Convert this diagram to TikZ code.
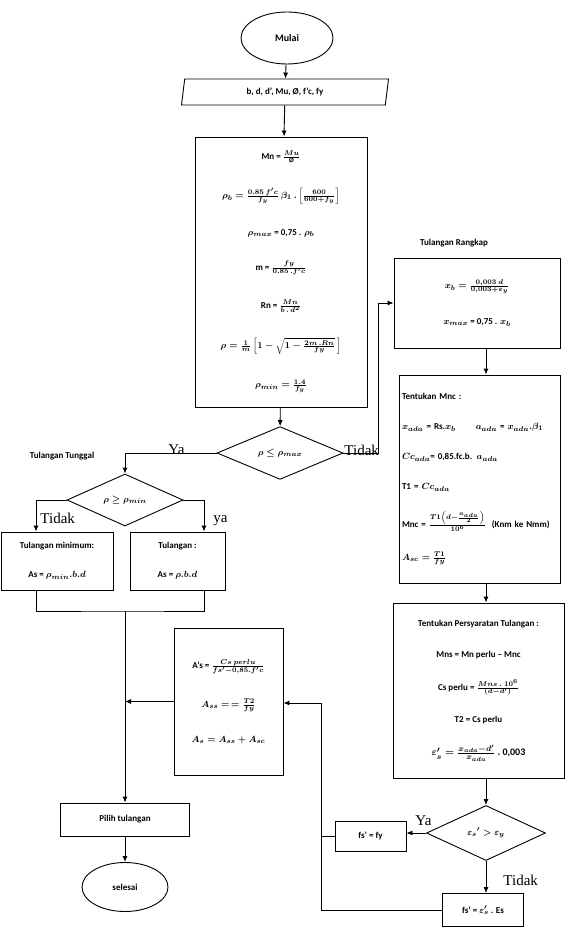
\documentclass[tikz,border=0pt]{standalone}
\usepackage{amsmath}
\usepackage{fontspec}
\setmainfont{Carlito}
\newfontfamily\tnr{Liberation Serif}
\DeclareMathSizes{9}{9}{7.5}{6}
\DeclareMathSizes{10}{10}{8}{6}
\usetikzlibrary{shapes.geometric,arrows.meta}

\tikzset{
  kotak/.style={draw, align=center, font=\small\bfseries\boldmath, inner sep=3pt},
  data/.style={draw, trapezium, trapezium left angle=75, trapezium right angle=105,
    trapezium stretches body, font=\small\bfseries, inner sep=2pt},
  putusan/.style={draw, diamond, inner sep=0pt, font=\small\bfseries\boldmath},
  ujung/.style={draw, ellipse, inner sep=0pt, font=\bfseries},
  ket/.style={font=\tnr\fontsize{15}{15}\selectfont, inner sep=0pt},
  judul/.style={font=\small\bfseries, inner sep=0pt}
}

\begin{document}
\begin{tikzpicture}[x=1pt,y=-1pt,line width=0.9pt,>={Latex[length=6pt,width=5pt]}]
\useasboundingbox (0,0) rectangle (579,942);
%alur utama
\node[ujung, minimum width=92, minimum height=52] (mulai) at (287,38) {Mulai};
\node[data, minimum width=207, minimum height=26] (masukan) at (285,92) {b, d, d', Mu, Ø, f'c, fy};
\node[kotak, minimum width=172, minimum height=270] (hitung) at (281,272) {%
  Mn = $\frac{Mu}{\mbox{\scriptsize Ø}}$\\[24pt]
  $\rho_b = \frac{0.85\,f'c}{f_y}\,\beta_1\,.\left[\frac{600}{600+f_y}\right]$\\[24pt]
  $\rho_{max}$ = 0,75 . $\rho_b$\\[24pt]
  m = $\frac{fy}{0.85\,.f'c}$\\[24pt]
  Rn = $\frac{Mn}{b\,.\,d^2}$\\[24pt]
  $\rho = \frac{1}{m}\left[1-\sqrt{1-\frac{2m\,.Rn}{fy}}\,\right]$\\[24pt]
  $\rho_{min} = \frac{1.4}{f_y}$};
\node[putusan, minimum width=126, minimum height=50] (cek1) at (280,453) {$\rho \le \rho_{max}$};

%tulangan rangkap
\coordinate (lajur) at (486,0);
\node[judul] (jrangkap) at (454,243) {Tulangan Rangkap};
\node[kotak, minimum width=166, minimum height=90] (rangkap) at (477,303) {%
  $x_b = \frac{0{,}003\ d}{0{,}003+\varepsilon_y}$\\[24pt]
  $x_{max}$ = 0,75 . $x_b$};
\node[kotak, align=left, text width=155, minimum height=208] (mnc) at (479.5,479) {%
  Tentukan Mnc :\\[19pt]
  $x_{ada}$ = Rs.$x_b$\hspace{20pt}$a_{ada}$ = $x_{ada}.\beta_1$\\[19pt]
  $Cc_{ada}$= 0,85.fc.b. $a_{ada}$\\[19pt]
  T1 = $Cc_{ada}$\\[19pt]
  Mnc = $\frac{T1\left(d-\frac{a_{ada}}{2}\right)}{10^6}$ \ (Knm ke Nmm)\\[19pt]
  $A_{sc} = \frac{T1}{fy}$};
\node[kotak, minimum width=171, minimum height=175] (syarat) at (478.5,690.5) {%
  Tentukan Persyaratan Tulangan :\\[20pt]
  Mns = Mn perlu -- Mnc\\[20pt]
  Cs perlu = $\frac{Mns\ .\ 10^6}{(d-d')}$\\[20pt]
  T2 = Cs perlu\\[20pt]
  {\normalsize $\varepsilon_s' = \frac{x_{ada}-d'}{x_{ada}}\,.\,$0,003}};
\node[putusan, minimum width=119, minimum height=55] (cek2) at (486,833) {$\varepsilon_s{'} > \varepsilon_y$};
\node[kotak, minimum width=71, minimum height=30] (fsfy) at (370.5,836) {fs' = fy};
\node[kotak, minimum width=81, minimum height=33] (fses) at (483,910) {fs' = $\varepsilon_s'$ . Es};
\node[kotak, minimum width=109, minimum height=147] (asbox) at (228.5,701.5) {%
  A's = $\frac{Cs\ perlu}{fs'-0{,}85.f'c}$\\[24pt]
  $A_{ss} = \,= \frac{T2}{fy}$\\[24pt]
  $A_s = A_{ss} + A_{sc}$};

%tulangan tunggal
\node[judul] (jtunggal) at (62,456) {Tulangan Tunggal};
\node[putusan, minimum width=116, minimum height=52] (cek3) at (125,500) {$\rho \ge \rho_{min}$};
\node[kotak, minimum width=112, minimum height=58] (tmin) at (57,561) {Tulangan minimum:\\[18pt] As = $\rho_{min}.b.d$};
\node[kotak, minimum width=95, minimum height=58] (tul) at (177.5,561) {Tulangan :\\[18pt] As = $\rho.b.d$};
\node[kotak, minimum width=129, minimum height=33] (pilih) at (125,819.5) {Pilih tulangan};
\node[ujung, minimum width=86, minimum height=49, font=\small\bfseries] (selesai) at (125,887) {selesai};

\coordinate (belok) at (378,453);
\coordinate (kiri) at (36,499);
\coordinate (kanan) at (204,499);
\coordinate (gabung) at (125,611);
\coordinate (balik) at (321,703);

\draw[->] (mulai) -- (masukan);
\draw[->] (masukan) -- (hitung);
\draw[->] (hitung) -- (cek1);
\draw[->] (cek1.east) -- (belok) |- (rangkap.west);
\draw[->] (rangkap.south -| lajur) -- (mnc.north -| lajur);
\draw[->] (mnc.south -| lajur) -- (syarat.north -| lajur);
\draw[->] (syarat.south -| lajur) -- (cek2.north);
\draw[->] (cek2.west) -- (cek2.west -| fsfy.east);
\draw[->] (cek2.south) -- (cek2.south |- fses.north);
\draw[->] (fses.west) -| (balik) -- (balik -| asbox.east);
\draw (fsfy.west) -- (fsfy.west -| balik);
\draw[->] (cek1.west) -| (cek3.north);
\draw[->] (cek3.west) -| (kiri |- tmin.north);
\draw[->] (cek3.east) -| (kanan |- tul.north);
\draw (kiri |- tmin.south) |- (gabung) -| (kanan |- tul.south);
\draw[->] (asbox.west) -- (asbox.west -| gabung);
\draw[->] (gabung) -- (gabung |- pilih.north);
\draw[->] (pilih) -- (selesai);

\node[ket, anchor=base west] (tidak1) at (344,455) {Tidak};
\node[ket, anchor=base west] (ya1) at (168,454) {Ya};
\node[ket, anchor=base west] (tidak2) at (40,523) {Tidak};
\node[ket, anchor=base west] (ya2) at (213,522) {ya};
\node[ket, anchor=base west] (ya3) at (415,825) {Ya};
\node[ket, anchor=base west] (tidak3) at (503,885) {Tidak};
\end{tikzpicture}
\end{document}
